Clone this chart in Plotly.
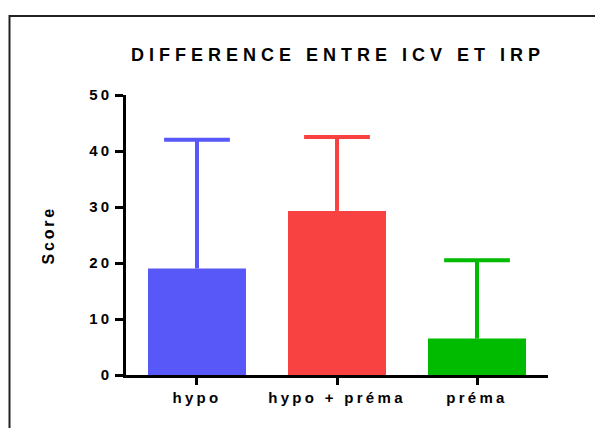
import plotly.graph_objects as go

categories = ["hypo", "hypo + préma", "préma"]
means = [19.0, 29.3, 6.5]
err_plus = [23.0, 13.2, 14.0]
err_minus = [0, 0, 0]
colors = ["#5858F8", "#F84242", "#00BB00"]
y_ticks = [0, 10, 20, 30, 40, 50]

font_family = "Liberation Sans, Arial, sans-serif"

# plot area in figure pixel coordinates
L, R, T, B = 118, 63, 87, 61
W = 603 - L - R
H = 428 - T - B

fig = go.Figure()
for i, cat in enumerate(categories):
    fig.add_trace(go.Bar(
        x=[i], y=[means[i]], width=0.7,
        marker=dict(color=colors[i], line=dict(width=0)),
        error_y=dict(type="data", symmetric=False, array=[err_plus[i]],
                     arrayminus=[err_minus[i]], color=colors[i],
                     thickness=4, width=0),
        showlegend=False, hoverinfo="skip",
    ))
    fig.add_trace(go.Scatter(
        x=[i], y=[means[i] + err_plus[i]], mode="markers",
        marker=dict(symbol="line-ew", size=47, color=colors[i],
                    line=dict(color=colors[i], width=4)),
        showlegend=False, hoverinfo="skip", cliponaxis=False,
    ))

fig.update_layout(
    width=603, height=428,
    margin=dict(l=L, r=R, t=T, b=B),
    paper_bgcolor="white", plot_bgcolor="white",
    font=dict(family=font_family, color="black"),
    title=dict(text="<b>DIFFERENCE ENTRE ICV ET IRP</b>",
               x=(330 - L) / W, xref="paper", xanchor="center",
               y=1 - 47 / 428, yref="container", yanchor="middle",
               font=dict(size=18, family=font_family, color="black")),
    xaxis=dict(range=[-0.507, 2.507], tickmode="array",
               tickvals=list(range(len(categories))),
               ticktext=["<b>%s</b>" % c for c in categories],
               showline=True, linecolor="black", linewidth=3,
               ticks="outside", ticklen=7, tickwidth=3, tickcolor="black",
               showgrid=False, zeroline=False,
               tickfont=dict(size=15, family=font_family, color="black")),
    yaxis=dict(range=[0, 50], tickmode="array", tickvals=y_ticks,
               ticktext=["<b>%d</b>" % v for v in y_ticks],
               showline=True, linecolor="black", linewidth=3,
               ticks="outside", ticklen=8, tickwidth=3, tickcolor="black",
               showgrid=False, zeroline=False,
               tickfont=dict(size=15, family=font_family, color="black")),
    annotations=[dict(text="<b>Score</b>", textangle=-90,
                      x=(39.5 - L) / W, xref="paper", xanchor="center",
                      y=0.5, yref="paper", yanchor="middle", showarrow=False,
                      font=dict(size=16, family=font_family, color="black"))],
    shapes=[dict(type="rect", xref="paper", yref="paper",
                 x0=(1.5 - L) / W, x1=2.0, y0=-1.0, y1=1 + (T - 8) / H,
                 line=dict(color="#222222", width=2), layer="below")],
)

post = """
var st = document.createElement('style');
st.textContent = '.gtitle{letter-spacing:5px;} .xtick text{letter-spacing:3.3px;} ' +
                 '.ytick text{letter-spacing:3px;} .annotation-text{letter-spacing:2.8px;}';
document.head.appendChild(st);
"""

fig.write_html("out.html", post_script=post)
